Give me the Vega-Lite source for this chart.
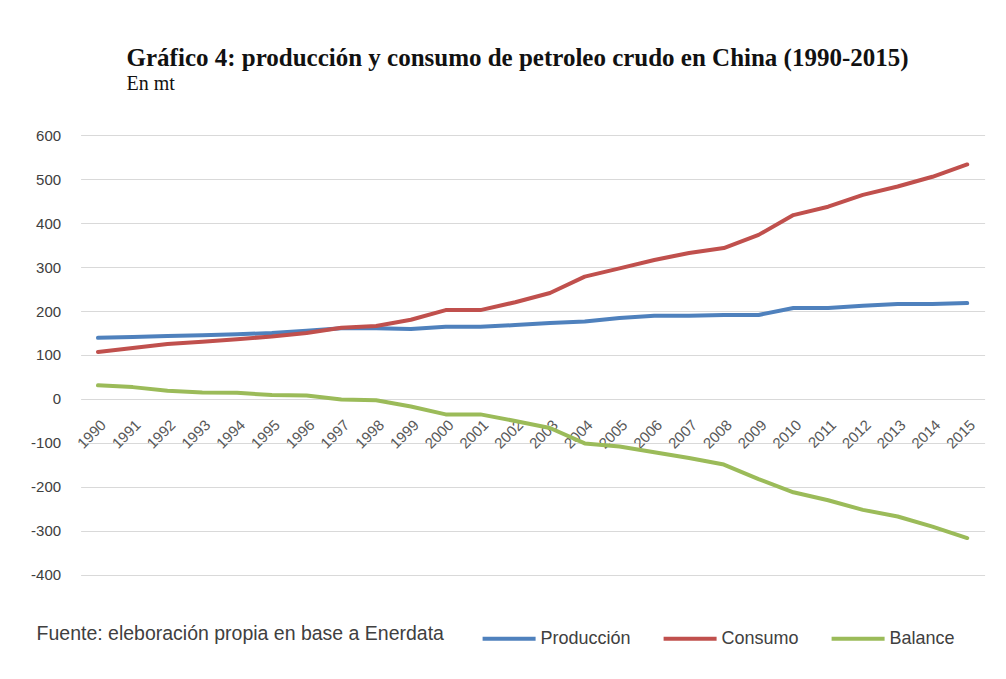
{
  "$schema": "https://vega.github.io/schema/vega-lite/v6.json",
  "width": 904,
  "height": 440,
  "autosize": {"type": "none"},
  "padding": {"left": 80.6, "top": 135, "right": 21, "bottom": 104},
  "background": "white",
  "title": {
    "text": "Gráfico 4: producción y consumo de petroleo crudo en China (1990-2015)",
    "subtitle": "En mt",
    "anchor": "start",
    "frame": "group",
    "dx": 46,
    "offset": 34,
    "font": "Liberation Serif",
    "fontSize": 25,
    "fontWeight": "bold",
    "color": "#111111",
    "subtitleFont": "Liberation Serif",
    "subtitleFontSize": 20,
    "subtitleColor": "#111111",
    "subtitlePadding": 3
  },
  "data": {
    "values": [
      {"year": "1990", "serie": "Producción", "value": 139},
      {"year": "1991", "serie": "Producción", "value": 141},
      {"year": "1992", "serie": "Producción", "value": 143},
      {"year": "1993", "serie": "Producción", "value": 145},
      {"year": "1994", "serie": "Producción", "value": 147},
      {"year": "1995", "serie": "Producción", "value": 150},
      {"year": "1996", "serie": "Producción", "value": 155},
      {"year": "1997", "serie": "Producción", "value": 161},
      {"year": "1998", "serie": "Producción", "value": 161},
      {"year": "1999", "serie": "Producción", "value": 159},
      {"year": "2000", "serie": "Producción", "value": 164},
      {"year": "2001", "serie": "Producción", "value": 164},
      {"year": "2002", "serie": "Producción", "value": 168},
      {"year": "2003", "serie": "Producción", "value": 173},
      {"year": "2004", "serie": "Producción", "value": 176},
      {"year": "2005", "serie": "Producción", "value": 184},
      {"year": "2006", "serie": "Producción", "value": 189},
      {"year": "2007", "serie": "Producción", "value": 189},
      {"year": "2008", "serie": "Producción", "value": 191},
      {"year": "2009", "serie": "Producción", "value": 191},
      {"year": "2010", "serie": "Producción", "value": 207},
      {"year": "2011", "serie": "Producción", "value": 207},
      {"year": "2012", "serie": "Producción", "value": 212},
      {"year": "2013", "serie": "Producción", "value": 216},
      {"year": "2014", "serie": "Producción", "value": 216},
      {"year": "2015", "serie": "Producción", "value": 218},
      {"year": "1990", "serie": "Consumo", "value": 107},
      {"year": "1991", "serie": "Consumo", "value": 116},
      {"year": "1992", "serie": "Consumo", "value": 125},
      {"year": "1993", "serie": "Consumo", "value": 130},
      {"year": "1994", "serie": "Consumo", "value": 136},
      {"year": "1995", "serie": "Consumo", "value": 142},
      {"year": "1996", "serie": "Consumo", "value": 150},
      {"year": "1997", "serie": "Consumo", "value": 162},
      {"year": "1998", "serie": "Consumo", "value": 166},
      {"year": "1999", "serie": "Consumo", "value": 180},
      {"year": "2000", "serie": "Consumo", "value": 202},
      {"year": "2001", "serie": "Consumo", "value": 202},
      {"year": "2002", "serie": "Consumo", "value": 220},
      {"year": "2003", "serie": "Consumo", "value": 241},
      {"year": "2004", "serie": "Consumo", "value": 278},
      {"year": "2005", "serie": "Consumo", "value": 297},
      {"year": "2006", "serie": "Consumo", "value": 316},
      {"year": "2007", "serie": "Consumo", "value": 332},
      {"year": "2008", "serie": "Consumo", "value": 343},
      {"year": "2009", "serie": "Consumo", "value": 373},
      {"year": "2010", "serie": "Consumo", "value": 418},
      {"year": "2011", "serie": "Consumo", "value": 437},
      {"year": "2012", "serie": "Consumo", "value": 464},
      {"year": "2013", "serie": "Consumo", "value": 483},
      {"year": "2014", "serie": "Consumo", "value": 505},
      {"year": "2015", "serie": "Consumo", "value": 533},
      {"year": "1990", "serie": "Balance", "value": 31},
      {"year": "1991", "serie": "Balance", "value": 27},
      {"year": "1992", "serie": "Balance", "value": 19},
      {"year": "1993", "serie": "Balance", "value": 15},
      {"year": "1994", "serie": "Balance", "value": 14},
      {"year": "1995", "serie": "Balance", "value": 9},
      {"year": "1996", "serie": "Balance", "value": 8},
      {"year": "1997", "serie": "Balance", "value": -1},
      {"year": "1998", "serie": "Balance", "value": -3},
      {"year": "1999", "serie": "Balance", "value": -17},
      {"year": "2000", "serie": "Balance", "value": -35},
      {"year": "2001", "serie": "Balance", "value": -35},
      {"year": "2002", "serie": "Balance", "value": -50},
      {"year": "2003", "serie": "Balance", "value": -66},
      {"year": "2004", "serie": "Balance", "value": -101},
      {"year": "2005", "serie": "Balance", "value": -108},
      {"year": "2006", "serie": "Balance", "value": -121},
      {"year": "2007", "serie": "Balance", "value": -134},
      {"year": "2008", "serie": "Balance", "value": -149},
      {"year": "2009", "serie": "Balance", "value": -182},
      {"year": "2010", "serie": "Balance", "value": -212},
      {"year": "2011", "serie": "Balance", "value": -230},
      {"year": "2012", "serie": "Balance", "value": -252},
      {"year": "2013", "serie": "Balance", "value": -267},
      {"year": "2014", "serie": "Balance", "value": -290},
      {"year": "2015", "serie": "Balance", "value": -316}
    ]
  },
  "mark": {"type": "line", "strokeWidth": 4, "strokeCap": "round", "strokeJoin": "round"},
  "encoding": {
    "x": {
      "field": "year",
      "type": "ordinal",
      "scale": {"type": "point", "padding": 0.5},
      "axis": {
        "title": null,
        "offset": -176,
        "domain": false,
        "ticks": false,
        "grid": false,
        "labelAngle": -45,
        "labelFont": "Liberation Sans",
        "labelFontSize": 15,
        "labelColor": "#595959",
        "labelPadding": 18
      }
    },
    "y": {
      "field": "value",
      "type": "quantitative",
      "scale": {"domain": [-400, 600], "nice": false},
      "axis": {
        "title": null,
        "values": [-400, -300, -200, -100, 0, 100, 200, 300, 400, 500, 600],
        "labelExpr": "'' + datum.value",
        "domain": false,
        "ticks": false,
        "gridColor": "#d9d9d9",
        "gridWidth": 1,
        "labelFont": "Liberation Sans",
        "labelFontSize": 15,
        "labelColor": "#404040",
        "labelPadding": 20
      }
    },
    "color": {
      "field": "serie",
      "type": "nominal",
      "scale": {
        "domain": ["Producción", "Consumo", "Balance"],
        "range": ["#4f81bd", "#c0504d", "#9bbb59"]
      },
      "legend": {
        "title": "Fuente: eleboración propia en base a Enerdata",
        "titleOrient": "left",
        "titleFont": "Liberation Sans",
        "titleFontSize": 19.5,
        "titleFontWeight": "normal",
        "titleColor": "#404040",
        "titleLimit": 600,
        "titlePadding": 36,
        "titleBaseline": "line-top",
        "titleLineHeight": 11,
        "orient": "none",
        "legendX": -44,
        "legendY": 475,
        "direction": "horizontal",
        "columns": 3,
        "columnPadding": 24,
        "symbolType": "stroke",
        "symbolSize": 2809,
        "symbolStrokeWidth": 4,
        "labelFont": "Liberation Sans",
        "labelFontSize": 18,
        "labelColor": "#404040",
        "labelOffset": 3,
        "labelLimit": 300
      }
    },
    "order": {"field": "year"}
  },
  "config": {"view": {"stroke": null}}
}
